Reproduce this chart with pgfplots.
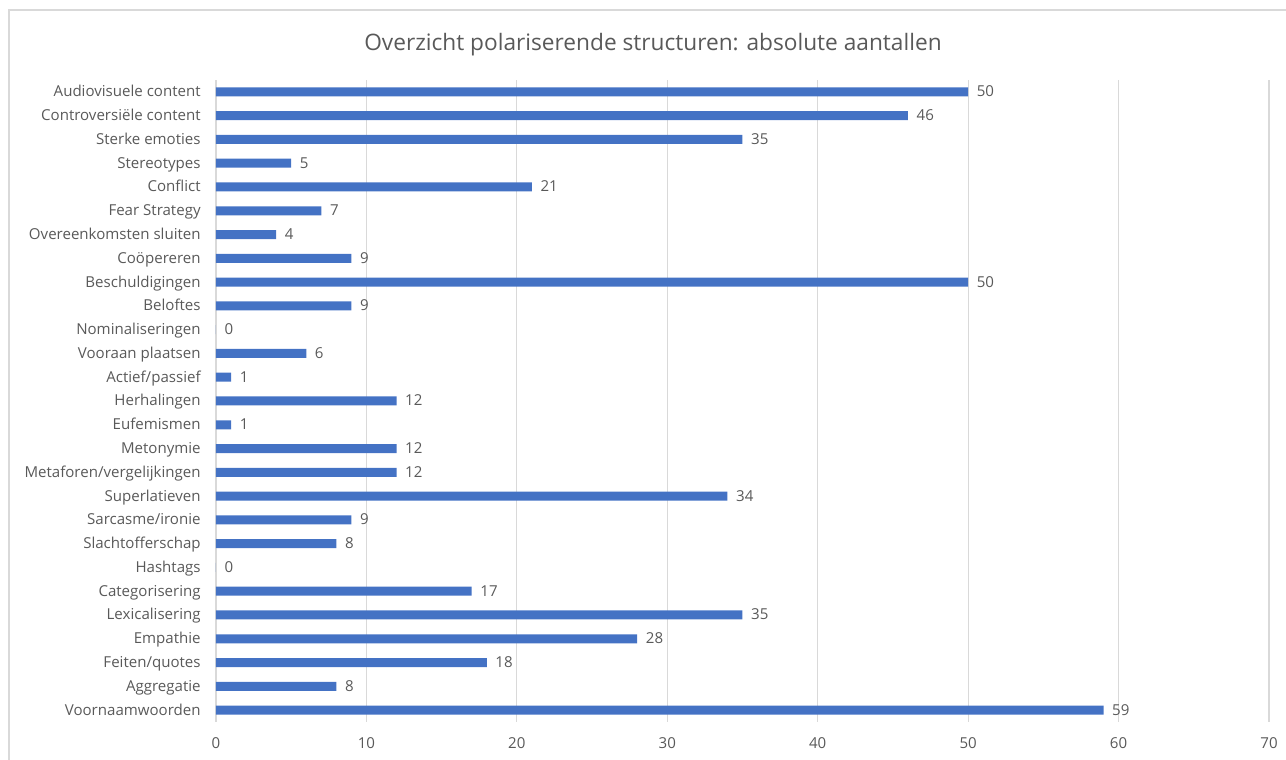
\documentclass[border=0pt]{standalone}
\usepackage{pgfplots}
\pgfplotsset{compat=1.18}
\usepackage{pgfplotstable}
\usepackage{fontspec}
\setmainfont{Open Sans}
\definecolor{barblue}{HTML}{4472C4}
\definecolor{txtgray}{HTML}{595959}
\definecolor{gridgray}{HTML}{D9D9D9}

% counts per structure, listed from the bottom of the chart upwards
\pgfplotstableread[col sep=comma]{
idx,label,count
0,Voornaamwoorden,59
1,Aggregatie,8
2,Feiten/quotes,18
3,Empathie,28
4,Lexicalisering,35
5,Categorisering,17
6,Hashtags,0
7,Slachtofferschap,8
8,Sarcasme/ironie,9
9,Superlatieven,34
10,Metaforen/vergelijkingen,12
11,Metonymie,12
12,Eufemismen,1
13,Herhalingen,12
14,Actief/passief,1
15,Vooraan plaatsen,6
16,Nominaliseringen,0
17,Beloftes,9
18,Beschuldigingen,50
19,Coöpereren,9
20,Overeenkomsten sluiten,4
21,Fear Strategy,7
22,Conflict,21
23,Stereotypes,5
24,Sterke emoties,35
25,Controversiële content,46
26,Audiovisuele content,50
}\structtable

\begin{document}
\begin{tikzpicture}
\useasboundingbox (0,0) rectangle (964.5pt,570pt);
% chart frame
\draw[gridgray, line width=1.2pt] (6.75pt,0) -- (6.75pt,562.5pt) -- (964.5pt,562.5pt);
% title
\node[text=txtgray, font=\fontsize{17}{20}\selectfont] at (489.75pt,536.25pt)
  {Overzicht polariserende structuren: absolute aantallen};
\begin{axis}[
  at={(162pt,28.5pt)}, anchor=south west,
  scale only axis,
  width=789.75pt, height=481.5pt,
  xbar, bar width=6.75pt,
  xmin=0, xmax=70, ymin=-0.5, ymax=26.5,
  xtick={0,10,...,70},
  ytick={0,...,26},
  yticklabels from table={\structtable}{label},
  xmajorgrids, grid style={gridgray, line width=0.9pt},
  axis line style={draw=none},
  major tick length=0pt,
  tick label style={text=txtgray, font=\fontsize{11.3}{13}\selectfont},
  /pgf/number format/assume math mode=true,
  xticklabel style={yshift=-8pt},
  yticklabel style={xshift=-8pt, text height=9.4pt, text depth=2pt},
  nodes near coords,
  nodes near coords align=horizontal,
  every node near coord/.append style={text=txtgray, font=\fontsize{11.3}{13}\selectfont,
    xshift=3pt, text height=9.4pt, text depth=2pt},
  clip=false,
]
\addplot[fill=barblue, draw=none] table[x=count, y=idx] {\structtable};
\end{axis}
\end{tikzpicture}
\end{document}
